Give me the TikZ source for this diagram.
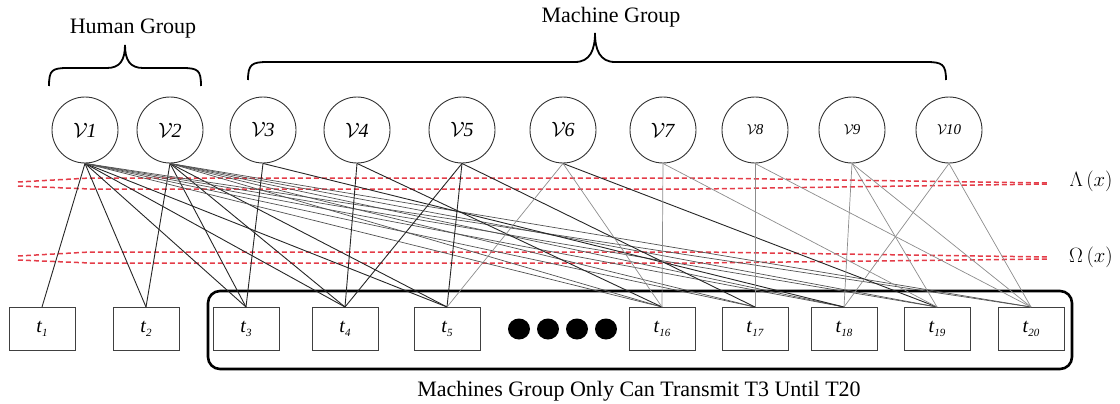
\documentclass[tikz,border=0pt]{standalone}
\usepackage[no-math]{fontspec}
\setmainfont{Liberation Serif}
\usetikzlibrary{shapes.geometric}
\begin{document}
\begin{tikzpicture}[x=1pt,y=-1pt,
  user/.style={circle,draw=black!80,line width=0.9pt,minimum size=66pt,inner sep=0pt},
  task/.style={rectangle,draw=black!75,line width=1pt,minimum width=66pt,minimum height=43pt,inner sep=0pt},
  blob/.style={ellipse,fill=black,minimum width=22pt,minimum height=21pt,inner sep=0pt},
  dk/.style={black!85,line width=0.9pt},
  md/.style={black!68,line width=0.7pt},
  lt/.style={black!45,line width=0.7pt},
  rdash/.style={draw={rgb,255:red,228;green,60;blue,72},line width=1.5pt,dash pattern=on 5pt off 3pt},
  brc/.style={line width=1.8pt,black},
  lab/.style={font=\fontsize{22}{24}\selectfont},
  mlab/.style={font=\fontsize{22}{24}\selectfont}]
\useasboundingbox (0,0) rectangle (1120,404);
% texts
\node[lab] (hg) at (133,29) {Human Group};
\node[lab] (mg) at (611,17) {Machine Group};
\node[lab] (ml) at (639,391) {Machines Group Only Can Transmit T3 Until T20};
% braces
\draw[brc] (49,86) .. controls (49,70) and (52,68) .. (68,68) -- (107,68)
  .. controls (120,68) and (125,60) .. (125,45)
  .. controls (125,60) and (130,68) .. (143,68) -- (182,68)
  .. controls (198,68) and (201,70) .. (201,86);
\draw[brc] (248,80) .. controls (248,64) and (252,62) .. (268,62) -- (575,62)
  .. controls (590,62) and (595,50) .. (595,33)
  .. controls (595,50) and (600,62) .. (615,62) -- (926,62)
  .. controls (942,62) and (946,64) .. (946,80);
% group frame
\node[draw,line width=2.6pt,rounded corners=12pt,minimum width=864pt,minimum height=78pt] (grp) at (640,330) {};
% users
\foreach \i/\x in {1/85,2/170,3/263,4/357,5/462,6/563,7/663}{
  \node[user] (v\i) at (\x,130) {\fontsize{20}{22}\selectfont$\mathcal{V}$\kern-1pt\textit{\i}};
}
\foreach \i/\x in {8/755,9/852,10/949}{
  \node[user] (v\i) at (\x,130) {\fontsize{15}{17}\selectfont$\mathcal{V}$\kern-1pt\textit{\i}};
}
% tasks
\foreach \i/\x in {1/42,2/146,3/246,4/345,5/447,16/662,17/755,18/844,19/937,20/1031}{
  \node[task] (t\i) at (\x,329) {\fontsize{20}{22}\selectfont\textit{t}\raisebox{-4pt}{\fontsize{11}{12}\selectfont\textit{\i}}};
}
% dots
\foreach \i/\x in {1/519,2/548,3/577,4/606}{
  \node[blob] (d\i) at (\x,329) {};
}
% red dashed lines
\draw[rdash] (18,182) -- (90,178) -- (700,178) -- (1048,183);
\draw[rdash] (18,186) -- (90,189) -- (700,189) -- (1048,184);
\draw[rdash] (18,256) -- (90,252) -- (700,252) -- (1048,257);
\draw[rdash] (18,260) -- (90,263) -- (700,263) -- (1048,259);
\node[mlab] (lam) at (1091,181) {$\Lambda\left(x\right)$};
\node[mlab] (om) at (1091,257) {$\Omega\left(x\right)$};
% edges
\foreach \t in {1,2,3,4,5}{\draw[dk] (v1.south) -- (t\t.north);}
\foreach \t in {2,3,4,5}{\draw[dk] (v2.south) -- (t\t.north);}
\foreach \t in {16,17,18,19,20}{\draw[md] (v1.south) -- (t\t.north); \draw[md] (v2.south) -- (t\t.north);}
\draw[dk] (v3.south) -- (t3.north);
\draw[dk] (v3.south) -- (t18.north);
\draw[dk] (v4.south) -- (t4.north);
\draw[dk] (v4.south) -- (t16.north);
\draw[dk] (v5.south) -- (t4.north);
\draw[dk] (v5.south) -- (t5.north);
\draw[dk] (v5.south) -- (t17.north);
\draw[dk] (v6.south) -- (t19.north);
\draw[lt] (v6.south) -- (t5.north);
\draw[lt] (v6.south) -- (t16.north);
\draw[lt] (v7.south) -- (t16.north);
\draw[lt] (v7.south) -- (t19.north);
\draw[lt] (v8.south) -- (t17.north);
\draw[lt] (v8.south) -- (t20.north);
\draw[lt] (v9.south) -- (t18.north);
\draw[lt] (v9.south) -- (t19.north);
\draw[lt] (v9.south) -- (t20.north);
\draw[lt] (v10.south) -- (t18.north);
\draw[lt] (v10.south) -- (t20.north);
\end{tikzpicture}
\end{document}
